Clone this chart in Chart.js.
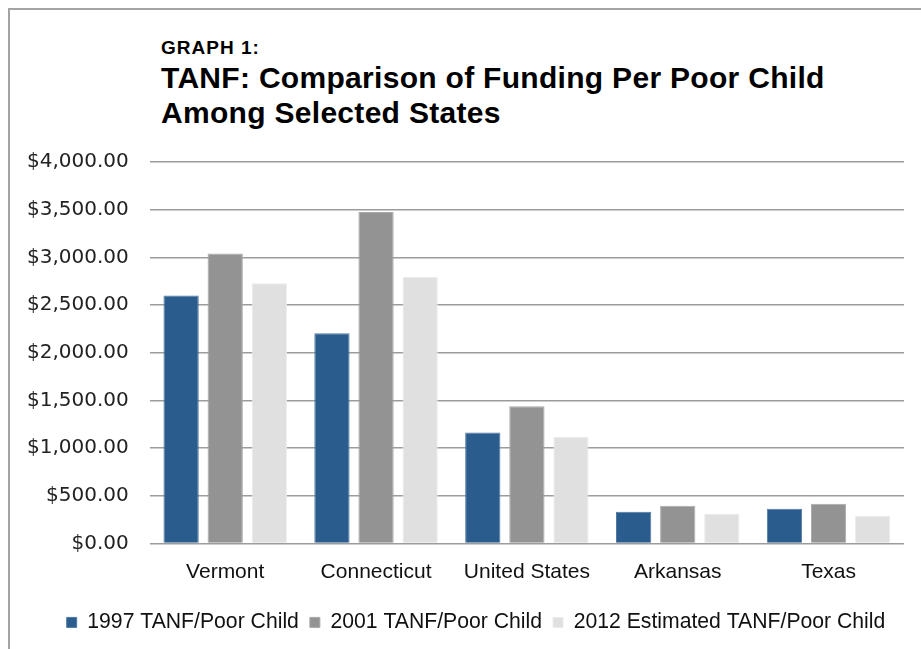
<!DOCTYPE html>
<html>
<head>
<meta charset="utf-8">
<script src="https://cdn.jsdelivr.net/npm/chart.js@4.4.1/dist/chart.umd.min.js"></script>
<style>
    html, body { margin: 0; padding: 0; background: #fff; overflow: hidden; }
    #wrap { position: relative; width: 921px; height: 649px; }
    #frame {
        position: absolute; left: 8px; top: 8px; width: 940px; height: 700px;
        border-top: 2px solid #a3a3a3; border-left: 2px solid #a3a3a3;
    }
    .title { position: absolute; left: 161px; font-family: "Liberation Sans", Arial, sans-serif; font-weight: bold; color: #000; white-space: nowrap; }
    #graphNo { top: 38px; font-size: 19px; line-height: 19px; letter-spacing: 1px; }
    #graphTitle { top: 60px; font-size: 30px; line-height: 35px; letter-spacing: 0.3px; }
    canvas { position: absolute; left: 0; top: 0; }
</style>
</head>
<body>
<div id="wrap">
    <div id="frame"></div>
    <div class="title" id="graphNo">GRAPH 1:</div>
    <div class="title" id="graphTitle">TANF: Comparison of Funding Per Poor Child<br>Among Selected States</div>
    <canvas id="tanfChart" width="921" height="649"></canvas>
</div>
<script>
// Data
const states = ['Vermont', 'Connecticut', 'United States', 'Arkansas', 'Texas'];
const tanf1997 = [2600, 2205, 1165, 335, 365];
const tanf2001 = [3040, 3475, 1440, 397, 418];
const tanf2012 = [2730, 2795, 1120, 310, 292];
const seriesNames = ['1997 TANF/Poor Child', '2001 TANF/Poor Child', '2012 Estimated TANF/Poor Child'];

const yMin = 0;
const yMax = 4000;
const yStep = 500;

function money(value) {
    return '$' + Number(value).toLocaleString('en-US', { minimumFractionDigits: 2, maximumFractionDigits: 2 });
}

// Legend in the original sits a bit right of the canvas centre
const legendShift = {
    id: 'legendShift',
    afterLayout(chart) {
        if (chart.legend) {
            chart.legend.left += 21;
            chart.legend.right += 21;
        }
    }
};

const ctx = document.getElementById('tanfChart').getContext('2d');

new Chart(ctx, {
    type: 'bar',
    data: {
        labels: states,
        datasets: [
            { label: seriesNames[0], data: tanf1997, backgroundColor: '#2b5c8e', borderColor: '#4f79a3', borderWidth: 1 },
            { label: seriesNames[1], data: tanf2001, backgroundColor: '#939393', borderColor: '#a9a9a9', borderWidth: 1 },
            { label: seriesNames[2], data: tanf2012, backgroundColor: '#e0e0e0', borderColor: '#ececec', borderWidth: 1 }
        ]
    },
    options: {
        responsive: false,
        animation: false,
        categoryPercentage: 0.877,
        barPercentage: 0.8,
        layout: {
            padding: { top: 162, right: 17, bottom: 6, left: 6 }
        },
        plugins: {
            title: { display: false },
            tooltip: { enabled: false },
            legend: {
                position: 'bottom',
                labels: {
                    boxWidth: 10,
                    boxHeight: 10,
                    padding: 11,
                    color: '#111',
                    font: { family: '"Liberation Sans", Arial, sans-serif', size: 21.2 }
                }
            }
        },
        scales: {
            x: {
                border: { display: false },
                grid: { display: false, drawTicks: false },
                ticks: {
                    padding: 16,
                    color: '#111',
                    font: { family: '"Liberation Sans", Arial, sans-serif', size: 21 }
                }
            },
            y: {
                min: yMin,
                max: yMax,
                border: { display: false },
                grid: { color: '#9c9c9c', lineWidth: 1.5, drawTicks: false },
                ticks: {
                    stepSize: yStep,
                    padding: 21,
                    color: '#222',
                    font: { family: '"DejaVu Sans", sans-serif', size: 20 },
                    callback: function(value) {
                        return money(value);
                    }
                }
            }
        }
    },
    plugins: [legendShift]
});
</script>
</body>
</html>
